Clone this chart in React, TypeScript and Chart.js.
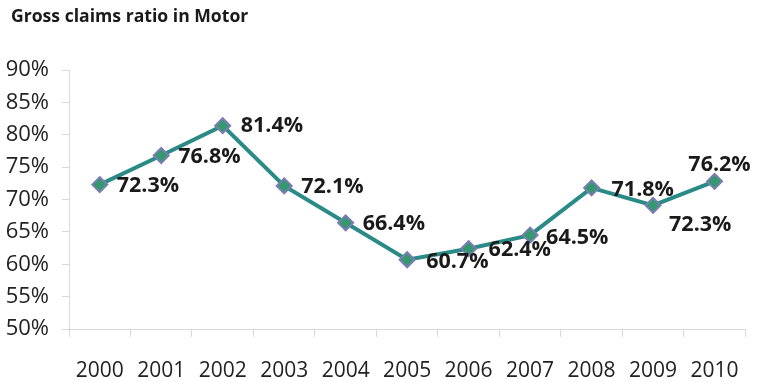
import React, { useEffect, useRef } from "react";
import { Chart, registerables } from "chart.js";

Chart.register(...registerables);

const chartTitle = "Gross claims ratio in Motor";
const years = ["2000", "2001", "2002", "2003", "2004", "2005", "2006", "2007", "2008", "2009", "2010"];
// plotted positions
const claimsRatio = [72.3, 76.8, 81.4, 72.1, 66.4, 60.7, 62.4, 64.5, 71.8, 69.1, 72.8];
// printed data labels as shown in the picture
const pointLabels = ["72.3%", "76.8%", "81.4%", "72.1%", "66.4%", "60.7%", "62.4%", "64.5%", "71.8%", "72.3%", "76.2%"];
const yMin = 50;
const yMax = 90;
const yStep = 5;

// label placement relative to each point: [dx, dy, align]
const labelPlacement: [number, number, CanvasTextAlign][] = [
  [17, 1, "left"], [17, 1, "left"], [18, 0, "left"], [17, 1, "left"], [17, 1, "left"],
  [19, 2, "left"], [20, 1, "left"], [16, 3, "left"], [20, 2, "left"], [16, 20, "left"], [5, -16, "center"],
];

const titleAndLabelsPlugin = {
  id: "titleAndLabels",
  afterDraw(chart: any) {
    const ctx = chart.ctx;
    ctx.save();
    ctx.font = "bold 17.6px 'Open Sans'";
    ctx.fillStyle = "#1a1a1a";
    ctx.textBaseline = "middle";
    ctx.textAlign = "left";
    ctx.fillText(chartTitle, 11, 17);
    ctx.restore();
  },
  afterDatasetsDraw(chart: any) {
    const ctx = chart.ctx;
    const meta = chart.getDatasetMeta(0);
    ctx.save();
    ctx.font = "bold 21.5px 'Open Sans'";
    ctx.fillStyle = "#1a1a1a";
    ctx.textBaseline = "middle";
    meta.data.forEach((pt: any, i: number) => {
      const [dx, dy, align] = labelPlacement[i];
      ctx.textAlign = align;
      ctx.fillText(pointLabels[i], pt.x + dx, pt.y + dy);
    });
    ctx.restore();
  },
};

export default function App() {
  const ref = useRef<HTMLCanvasElement>(null);
  useEffect(() => {
    document.body.style.margin = "0";
    const chart = new Chart(ref.current!, {
      type: "line",
      data: {
        labels: years,
        datasets: [
          {
            data: claimsRatio,
            borderColor: "#2a8a85",
            borderWidth: 4,
            pointStyle: "rectRot",
            pointRadius: 7.5,
            pointBorderWidth: 2,
            pointBackgroundColor: "#35996f",
            pointBorderColor: "#7c7cb4",
            tension: 0,
          },
        ],
      },
      options: {
        animation: false,
        responsive: false,
        maintainAspectRatio: false,
        layout: { padding: { left: 0, right: 10, top: 70, bottom: 0 } },
        plugins: {
          legend: { display: false },
          tooltip: { enabled: false },
          title: { display: false },
        },
        scales: {
          x: {
            offset: true,
            afterFit: (s: any) => {
              s.height = 53;
            },
            grid: {
              offset: true,
              drawOnChartArea: false,
              drawTicks: true,
              tickLength: 8,
              color: "#d9d9d9",
            },
            border: { color: "#d9d9d9", width: 1 },
            ticks: {
              color: "#222",
              font: { family: "'Open Sans'", size: 21 },
              padding: 21,
              maxRotation: 0,
              autoSkip: false,
            },
          },
          y: {
            min: yMin,
            max: yMax,
            afterFit: (s: any) => {
              s.width = 69;
            },
            grid: {
              drawOnChartArea: false,
              drawTicks: true,
              tickLength: 7,
              color: "#d9d9d9",
            },
            border: { color: "#d9d9d9", width: 1 },
            ticks: {
              stepSize: yStep,
              autoSkip: false,
              color: "#222",
              font: { family: "'Open Sans'", size: 22 },
              padding: 13,
              callback: (v: any) => v + "%",
            },
          },
        },
      },
      plugins: [titleAndLabelsPlugin],
    });
    return () => chart.destroy();
  }, []);
  return (
    <div style={{ width: 760, height: 382 }}>
      <canvas ref={ref} width={760} height={382} style={{ width: 760, height: 382, display: "block" }} />
    </div>
  );
}
